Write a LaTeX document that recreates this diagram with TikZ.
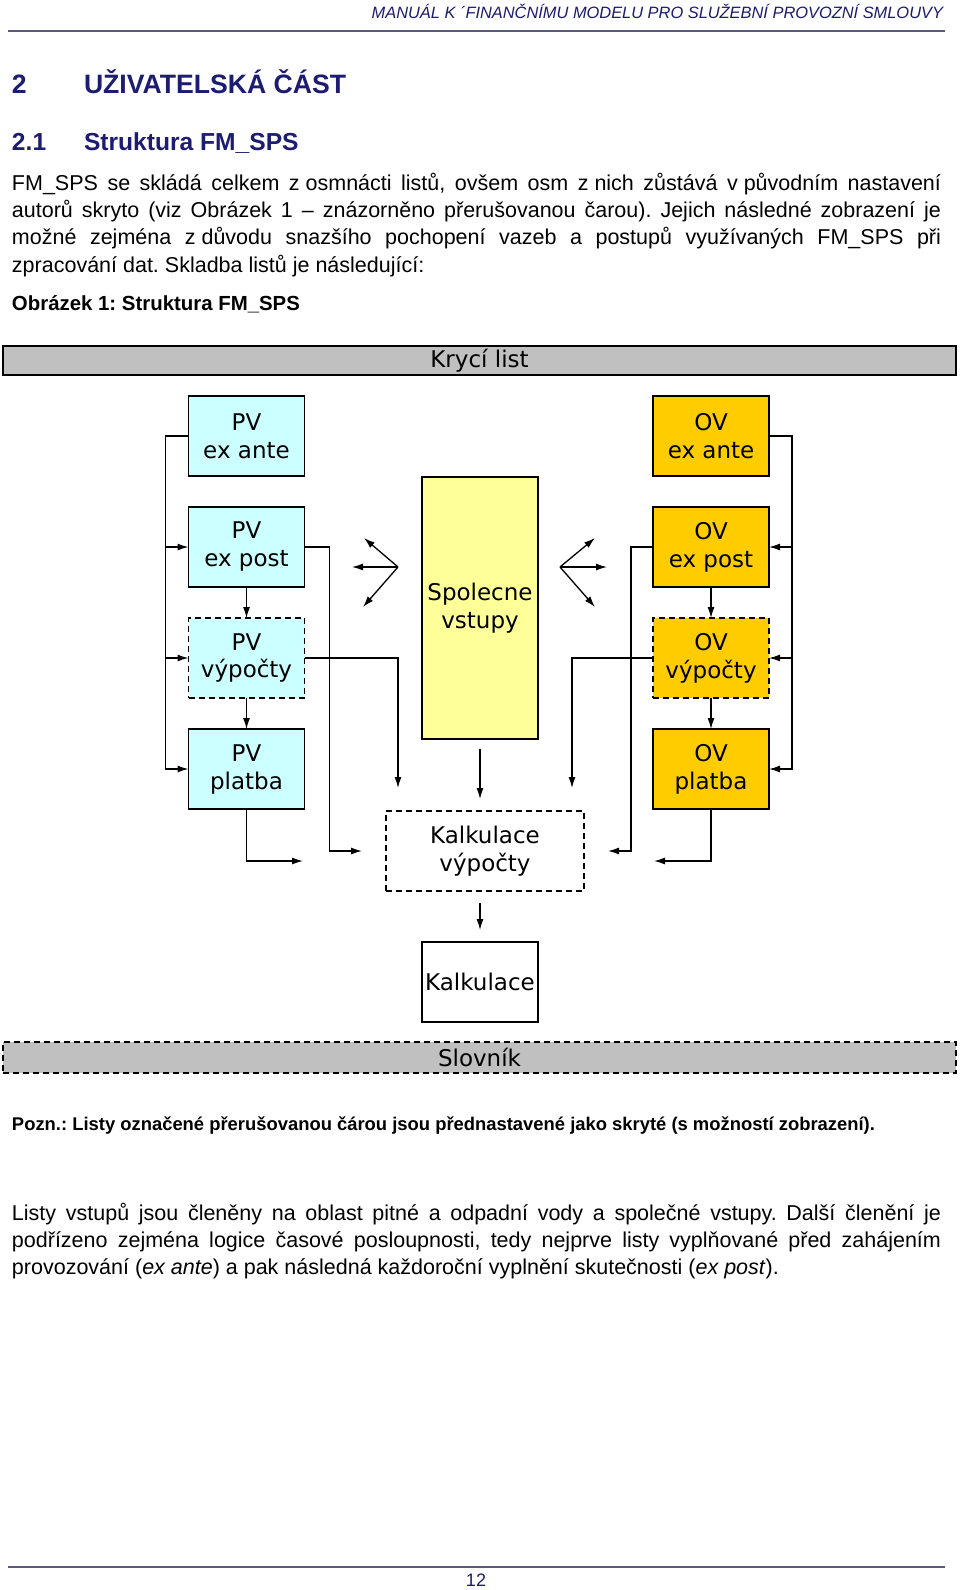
\documentclass[tikz,border=0pt]{standalone}
\usepackage{fontspec}
\setmainfont{Liberation Sans}
\newfontfamily\sheetfont{DejaVu Sans}
\usepackage{tikz}
\usetikzlibrary{arrows.meta, positioning}
\definecolor{pvColor}{RGB}{204,255,255}
\definecolor{ovColor}{RGB}{255,204,0}
\definecolor{spolColor}{RGB}{255,255,153}
\definecolor{barColor}{RGB}{192,192,192}
\definecolor{headBlue}{RGB}{28,28,112}
\definecolor{ruleBlue}{RGB}{88,88,128}
\newcommand{\np}[1]{\mbox{#1 }}
\frenchspacing

\begin{document}
\begin{tikzpicture}[
    x=1pt, y=-1pt,
    every node/.style={inner sep=0pt, outer sep=0pt},
    sheet/.style={draw, line width=1.3pt, minimum width=116pt, minimum height=80pt, align=center, font=\sheetfont\fontsize{23}{28}\selectfont},
    hidden/.style={sheet, dash pattern=on 6pt off 4pt},
    bar/.style={draw, line width=1.4pt, fill=barColor, minimum width=953pt, minimum height=29pt, font=\sheetfont\fontsize{23}{28}\selectfont},
    body/.style={anchor=base west, font=\fontsize{21.5}{27.4}\selectfont},
    head/.style={anchor=base west, text=headBlue, font=\bfseries\fontsize{#1}{32}\selectfont},
    link/.style={->, line width=1.3pt},
    >={Latex[length=11pt,width=7pt]}
]

% Page
\path[use as bounding box, fill=white] (0,0) rectangle (960,1590);
\node[anchor=base east, text=headBlue, font=\itshape\fontsize{16.4}{20}\selectfont] (runHead) at (943,18) {MANUÁL K ´FINANČNÍMU MODELU PRO SLUŽEBNÍ PROVOZNÍ SMLOUVY};
\draw[ruleBlue, line width=2pt] (8,31) -- (945,31);

\node[head=26.6] (chapNum) at (12,93.5) {2};
\node[head=26.6] (chapTitle) at (84,93.5) {UŽIVATELSKÁ ČÁST};
\node[head=24.6] (secNum) at (12,150) {2.1};
\node[head=24.6] (secTitle) at (84,150) {Struktura FM\_SPS};

\node[body] (introA) at (12,190) {\makebox[929pt][s]{FM\_SPS se skládá celkem \np{z}osmnácti listů, ovšem osm \np{z}nich zůstává \np{v}původním nastavení}};
\node[body] (introB) at (12,217.4) {\makebox[929pt][s]{autorů skryto (viz Obrázek 1 – znázorněno přerušovanou čarou). Jejich následné zobrazení je}};
\node[body] (introC) at (12,244.8) {\makebox[929pt][s]{možné zejména \np{z}důvodu snazšího pochopení vazeb a postupů využívaných FM\_SPS při}};
\node[body] (introD) at (12,272.2) {zpracování dat. Skladba listů je následující:};

\node[body, font=\bfseries\fontsize{20.4}{24}\selectfont] (caption) at (12,310) {Obrázek 1: Struktura FM\_SPS};

% Bars
\node[bar] (kryci) at (479.5,360.5) {Krycí list};
\node[bar, dash pattern=on 6pt off 4pt, minimum height=31pt] (slovnik) at (479.5,1057.5) {Slovník};

% PV column
\node[sheet, fill=pvColor] (pvAnte) at (246.5,436) {PV\\ex ante};
\node[sheet, fill=pvColor, below=31pt of pvAnte] (pvPost) {PV\\ex post};
\node[hidden, fill=pvColor, below=31pt of pvPost] (pvCalc) {PV\\výpočty};
\node[sheet, fill=pvColor, below=31pt of pvCalc] (pvPay) {PV\\platba};

% OV column
\node[sheet, fill=ovColor] (ovAnte) at (711,436) {OV\\ex ante};
\node[sheet, fill=ovColor, below=31pt of ovAnte] (ovPost) {OV\\ex post};
\node[hidden, fill=ovColor, below=31pt of ovPost] (ovCalc) {OV\\výpočty};
\node[sheet, fill=ovColor, below=31pt of ovCalc] (ovPay) {OV\\platba};

% Middle column
\node[sheet, fill=spolColor, minimum height=262pt] (spol) at (480,608) {Spolecne\\vstupy};
\node[hidden, fill=white, minimum width=198pt] (kalkCalc) at (485,851) {Kalkulace\\výpočty};
\node[sheet, fill=white] (kalk) at (480,982) {Kalkulace};

% Free ends
\coordinate[left=23pt of pvAnte.west] (busL);
\coordinate[right=23pt of ovAnte.east] (busR);
\coordinate (inPostL) at (362,851);
\coordinate (inCalcL) at (398,788);
\coordinate (inPayL) at (303,861);
\coordinate (inPostR) at (608,851);
\coordinate (inCalcR) at (572,788);
\coordinate (inPayR) at (654,861);
\coordinate (forkL) at (398,567);
\coordinate (forkR) at (560,567);
\coordinate (spolOut) at ([yshift=-10pt]spol.south);
\coordinate (kcIn) at (spolOut |- kalkCalc.north);
\coordinate (kcOut) at (kalk.north |- kalkCalc.south);

% PV edges
\draw[link] (pvAnte.west) -- (busL) |- (pvPay.west);
\draw[link] (busL |- pvPost.west) -- (pvPost.west);
\draw[link] (busL |- pvCalc.west) -- (pvCalc.west);
\draw[link] (pvPost) -- (pvCalc);
\draw[link] (pvCalc) -- (pvPay);
\draw[link] (pvPost.east) -- ++(25,0) |- (inPostL);
\draw[link] (pvCalc.east) -| (inCalcL);
\draw[link] (pvPay.south) |- (inPayL);

% OV edges
\draw[link] (ovAnte.east) -- (busR) |- (ovPay.east);
\draw[link] (busR |- ovPost.east) -- (ovPost.east);
\draw[link] (busR |- ovCalc.east) -- (ovCalc.east);
\draw[link] (ovPost) -- (ovCalc);
\draw[link] (ovCalc) -- (ovPay);
\draw[link] (ovPost.west) -- ++(-22,0) |- (inPostR);
\draw[link] (ovCalc.west) -| (inCalcR);
\draw[link] (ovPay.south) |- (inPayR);

% Middle edges
\draw[link] (spolOut) -- ([yshift=12pt]kcIn);
\draw[link] ([yshift=-12pt]kcOut) -- ([yshift=12pt]kalk.north);

% Forks
\draw[link] (forkL) -- ++(-34,-29);
\draw[link] (forkL) -- ++(-46,0);
\draw[link] (forkL) -- ++(-35,40);
\draw[link] (forkR) -- ++(35,-29);
\draw[link] (forkR) -- ++(47,0);
\draw[link] (forkR) -- ++(35,40);

% Notes
\node[body, font=\bfseries\fontsize{18.4}{22}\selectfont] (note) at (12,1130) {Pozn.: Listy označené přerušovanou čárou jsou přednastavené jako skryté (s možností zobrazení).};

\node[body] (outroA) at (12,1220) {\makebox[929pt][s]{Listy vstupů jsou členěny na oblast pitné a odpadní vody a společné vstupy. Další členění je}};
\node[body] (outroB) at (12,1247.4) {\makebox[929pt][s]{podřízeno zejména logice časové posloupnosti, tedy nejprve listy vyplňované před zahájením}};
\node[body] (outroC) at (12,1274.8) {provozování (\textit{ex ante}) a pak následná každoroční vyplnění skutečnosti (\textit{ex post}).};

% Page foot
\draw[ruleBlue, line width=2pt] (8,1567) -- (945,1567);
\node[anchor=base, text=headBlue, font=\fontsize{18}{20}\selectfont] (pageNum) at (476,1586) {12};
\end{tikzpicture}
\end{document}
